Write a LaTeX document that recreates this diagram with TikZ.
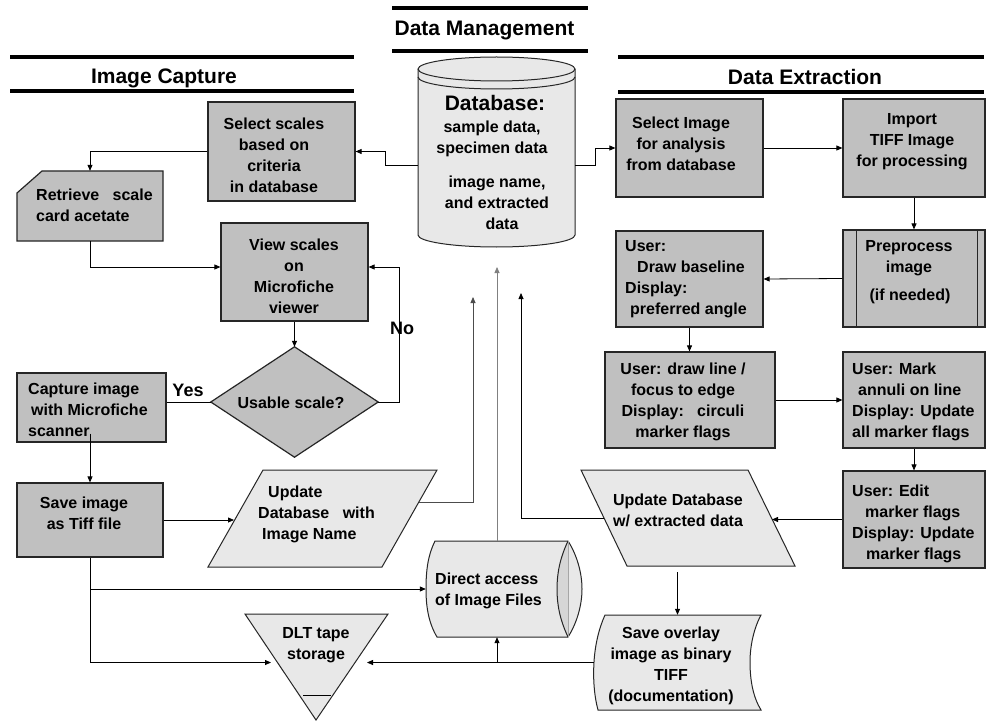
\documentclass[tikz,border=0pt]{standalone}
\usepackage{fontspec}
\setmainfont{Liberation Sans}
\usetikzlibrary{arrows.meta,calc}
\definecolor{boxgray}{HTML}{C0C0C0}
\definecolor{lightfill}{HTML}{E8E8E8}
\definecolor{lensgray}{HTML}{D6D6D6}
\begin{document}
\begin{tikzpicture}[x=1pt,y=-1pt,
  dbox/.style={draw=black!85, fill=boxgray, line width=1.2pt, inner sep=0pt},
  frame/.style={inner sep=0pt, draw=none},
  lshape/.style={draw=black!85, fill=lightfill, line width=1pt},
  txt/.style={font=\fontsize{16}{21}\selectfont\bfseries, align=center, inner sep=0pt},
  txtl/.style={txt, align=left, anchor=west},
  hdr/.style={font=\fontsize{21}{25}\selectfont\bfseries, inner sep=0pt},
  lbl/.style={font=\fontsize{18}{21}\selectfont\bfseries, inner sep=0pt},
  hline/.style={line width=4pt},
  arr/.style={-{Triangle[length=6pt,width=5pt]}, line width=0.8pt},
  darr/.style={arr, draw=black!70},
  garr/.style={arr, draw=black!50}]
\useasboundingbox (0,0) rectangle (987,722);
\fill[white] (0,0) rectangle (987,722);

% ---------- headers ----------
\node[hdr] (hdm) at (484.5,31) {Data Management};
\draw[hline] (392,8) -- (588,8);
\draw[hline] (392,51) -- (588,51);
\node[hdr] (hic) at (164,78) {Image Capture};
\draw[hline] (10,57) -- (354,57);
\draw[hline] (10,91) -- (354,91);
\node[hdr] (hde) at (805,77) {Data Extraction};
\draw[hline] (618,57) -- (984,57);
\draw[hline] (618,92) -- (984,92);

% ---------- database cylinder ----------
\node[frame, minimum width=157, minimum height=190] (db) at (496.5,152) {};
\draw[lshape] (418,69) -- (418,235) arc[start angle=180,end angle=0,x radius=78.5,y radius=12]
  -- (575,69) arc[start angle=0,end angle=-180,x radius=78.5,y radius=12] -- cycle;
\draw[line width=1pt, black!85] (418,69) arc[start angle=180,end angle=0,x radius=78.5,y radius=12];
\draw[line width=1pt, black!85] (418,77) arc[start angle=180,end angle=0,x radius=78.5,y radius=12];
\node[hdr] (tdb1) at (495,103) {Database:};
\node[txt] (tdb2) at (492,138.5) {sample data,\\specimen data};
\node[txt] (tdb3) at (497,203) {image name,\\and extracted\\\hspace*{10pt}data};

% ---------- image capture column ----------
\node[dbox, minimum width=147, minimum height=99] (selscale) at (281.5,151.5) {};
\node[txt] (tselscale) at (274,155) {Select scales\\based on\\criteria\\in database};

\node[frame, minimum width=146, minimum height=70] (retrieve) at (90,206) {};
\draw[dbox] (17,193) -- (42,171) -- (163,171) -- (163,241) -- (17,241) -- cycle;
\node[txtl] (tretrieve) at (36,205.5) {Retrieve~~~scale\\card acetate};

\node[dbox, minimum width=147, minimum height=98] (view) at (294.5,272) {};
\node[txt] (tview) at (294,276) {View scales\\on\\Microfiche\\viewer};

\node[frame, minimum width=167, minimum height=110] (dia) at (294.5,402) {};
\draw[dbox] (dia.north) -- (dia.east) -- (dia.south) -- (dia.west) -- cycle;
\node[txt] (tdia) at (291,403) {Usable scale?};

\node[dbox, minimum width=149, minimum height=69] (capture) at (91.5,407.5) {};
\node[txtl] (tcapture) at (28,409.5) {Capture image\\\hspace*{3pt}with Microfiche\\scanner};

\node[dbox, minimum width=146, minimum height=74] (saveimg) at (90,520) {};
\node[txt] (tsaveimg) at (84,513) {Save image\\as Tiff file};

\node[frame, minimum width=229, minimum height=97] (updname) at (322.5,518.5) {};
\draw[lshape] (263,470) -- (437,470) -- (382,567) -- (208,567) -- cycle;
\node[txtl] (tupdname) at (258,514.5) {\hspace*{10pt}Update\\Database\hspace{9pt} with\\\hspace*{4pt}Image Name};

% ---------- storage shapes ----------
\node[frame, minimum width=156, minimum height=96] (dir) at (504,589) {};
\draw[lshape] (435,541) -- (568,541) .. controls (577,555) and (582,573) .. (582,589)
  .. controls (582,605) and (577,623) .. (568,637) -- (437,637)
  .. controls (428,622) and (426,605) .. (426,589) .. controls (426,570) and (428,555) .. (435,541) -- cycle;
\fill[lensgray] (568,541) .. controls (560,558) and (557,573) .. (557,589) .. controls (557,605) and (560,620) .. (568,637) -- cycle;
\draw[line width=1pt, black!85] (568,541) .. controls (560,558) and (557,573) .. (557,589) .. controls (557,605) and (560,620) .. (568,637);
\draw[line width=0.5pt, black!35] (568,541) -- (568,637);
\node[txtl] (tdir) at (435,591) {Direct access\\of Image Files};

\node[frame, minimum width=143, minimum height=106] (dlt) at (316.5,667) {};
\draw[lshape] (245,614) -- (388,614) -- (316,720) -- cycle;
\draw[line width=0.8pt] (303,695) -- (331,695);
\node[txt] (tdlt) at (316,645.5) {DLT tape\\storage};

\node[frame, minimum width=167, minimum height=95] (ovl) at (677.5,662.5) {};
\draw[lshape] (605,615) -- (761,615) .. controls (753,630) and (750,648) .. (750,662)
  .. controls (750,680) and (753,697) .. (761,710) -- (598,710)
  .. controls (594,695) and (593,678) .. (594,662) .. controls (595,645) and (599,628) .. (605,615) -- cycle;
\node[txt] (tovl) at (671,665.5) {Save overlay\\image as binary\\TIFF\\(documentation)};

% ---------- data extraction column ----------
\node[dbox, minimum width=147, minimum height=98] (selimg) at (689.5,148) {};
\node[txt] (tselimg) at (681,144) {Select Image\\for analysis\\from database};

\node[dbox, minimum width=142, minimum height=98] (import) at (914,148) {};
\node[txt] (timport) at (912,142) {Import\\TIFF Image\\for processing};

\node[dbox, minimum width=142, minimum height=97] (prep) at (914,278.5) {};
\draw[line width=1pt, black!85] (856,230) -- (856,327);
\draw[line width=1pt, black!85] (977,230) -- (977,327);
\node[txt] (tprep1) at (909,258.5) {Preprocess\\image};
\node[txt] (tprep2) at (910,296) {(if needed)};

\node[dbox, minimum width=147, minimum height=96] (base) at (689.5,279) {};
\node[txtl] (tbase) at (625,279) {User:\\\hspace*{12pt}Draw baseline\\Display:\\\hspace*{5pt}preferred angle};

\node[dbox, minimum width=170, minimum height=96] (drawl) at (690,400) {};
\node[txt] (tdrawl) at (683,401.5) {User: draw line /\\focus to edge\\Display:~~~circuli\\marker flags};

\node[dbox, minimum width=142, minimum height=96] (mark) at (914,400) {};
\node[txtl] (tmark) at (852,401.5) {User: Mark\\\hspace*{6pt}annuli on line\\Display: Update\\all marker flags};

\node[dbox, minimum width=142, minimum height=97] (edit) at (914,519.5) {};
\node[txtl] (tedit) at (852,524) {User: Edit\\\hspace*{13pt}marker flags\\Display: Update\\\hspace*{14pt}marker flags};

\node[frame, minimum width=214, minimum height=96] (updext) at (688,518) {};
\draw[lshape] (581,470) -- (748,470) -- (795,566) -- (627,566) -- cycle;
\node[txt] (tupdext) at (678,510.5) {Update Database\\w/ extracted data};

% ---------- labels ----------
\node[lbl] (yes) at (188,390) {Yes};
\node[lbl] (no) at (402,328) {No};

% ---------- connector end points ----------
\coordinate (unL) at (234,520);
\coordinate (unR) at (419,502);
\coordinate (dbin1) at (473,297);
\coordinate (dbin2) at (497,267);
\coordinate (dbin3) at (521,293);
\coordinate (dltL) at (271,662.5);
\coordinate (dltR) at (367,662.5);
\coordinate (ueR) at (772,519.5);
\coordinate (ueL) at (604,518);
\coordinate (ueB) at (677.5,572);

% ---------- connectors ----------
\draw[arr] ([yshift=-13pt]db.west) -- ++(-32,0) |- (selscale.east);
\draw[arr] (selscale.west) -| (retrieve.north);
\draw[arr] (retrieve.south) |- ([yshift=5pt]view.west);
\draw[arr] (view.south) -- (dia.north);
\draw[line width=0.8pt] (dia.west) -- (dia.west -| capture.east);
\draw[arr] (dia.east) -- ++(21,0) |- ([yshift=5pt]view.east);
\draw[arr] ($(saveimg.north |- capture.south)+(0,-9)$) -- (saveimg.north);
\draw[arr] (saveimg.east) -- (unL);
\draw[darr] (unR) -| (dbin1);
\draw[arr] (saveimg.south) |- (dir.west);
\draw[arr] (saveimg.south) |- (dltL);
\draw[garr] (dir.north -| dbin2) -- (dbin2);
\draw[arr] (ovl.west) -- (dltR);
\draw[arr] (ovl.west -| dbin2) -- (dir.south -| dbin2);
\draw[arr] ([yshift=-13pt]db.east) -- ++(20,0) |- (selimg.west);
\draw[arr] (selimg.east) -- (import.west);
\draw[arr] (import.south) -- (prep.north);
\draw[arr] (prep.west) -- (base.east);
\draw[arr] (base.south) -- (base.south |- drawl.north);
\draw[arr] (drawl.east) -- (mark.west);
\draw[arr] (mark.south) -- (edit.north);
\draw[arr] (edit.west) -- (ueR);
\draw[arr] (ueL) -| (dbin3);
\draw[arr] (ueB) -- (ovl.north);
\end{tikzpicture}
\end{document}
